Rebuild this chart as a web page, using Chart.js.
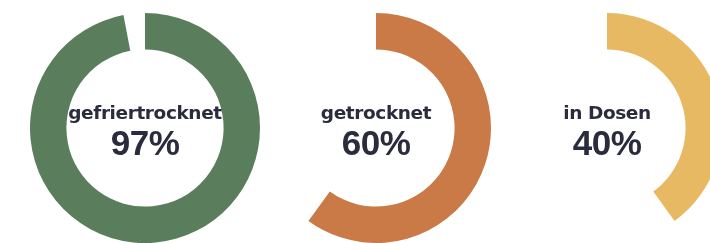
<!DOCTYPE html>
<html>
<head>
<meta charset="utf-8">
<script src="https://cdn.jsdelivr.net/npm/chart.js@4.4.0/dist/chart.umd.min.js"></script>
<style>
  html, body { margin: 0; padding: 0; background: #fff; }
  body { width: 710px; height: 243px; overflow: hidden; position: relative; font-family: "DejaVu Sans", sans-serif; }
  .ring { position: absolute; width: 240px; height: 240px; }
  .label { position: absolute; width: 200px; text-align: center; color: #2a2c3e; }
  .name { font-size: 18.5px; font-weight: bold; line-height: 20px; letter-spacing: -0.4px; }
  .pct { font-family: "Liberation Sans", Arial, sans-serif; font-size: 35px; font-weight: bold; line-height: 40px; letter-spacing: -0.5px; }
</style>
</head>
<body>
<script>
// Kategorien und Werte (Prozent)
const categories = ['gefriertrocknet', 'getrocknet', 'in Dosen'];
const values = [97, 60, 40];
const colors = ['#5a7d5b', '#c97a47', '#e8b963'];

// Mittelpunkte der Ringe im Bild
const centersX = [145, 376, 607];
const centerY = 128;

categories.forEach((name, i) => {
  const canvas = document.createElement('canvas');
  canvas.className = 'ring';
  canvas.width = 240;
  canvas.height = 240;
  canvas.style.left = (centersX[i] - 120) + 'px';
  canvas.style.top = (centerY - 120) + 'px';
  document.body.appendChild(canvas);

  new Chart(canvas.getContext('2d'), {
    type: 'doughnut',
    data: {
      labels: [name, ''],
      datasets: [{
        data: [values[i], 100 - values[i]],
        backgroundColor: [colors[i], 'rgba(0,0,0,0)'],
        borderWidth: 0
      }]
    },
    options: {
      responsive: false,
      animation: false,
      radius: 115,
      cutout: 82,
      rotation: 0,
      layout: { padding: 0 },
      plugins: {
        legend: { display: false },
        tooltip: { enabled: false }
      }
    }
  });

  const label = document.createElement('div');
  label.className = 'label';
  label.style.left = (centersX[i] - 100) + 'px';
  label.style.top = '103px';
  label.innerHTML = `<div class="name">${name}</div><div class="pct">${values[i]}%</div>`;
  document.body.appendChild(label);
});
</script>
</body>
</html>
